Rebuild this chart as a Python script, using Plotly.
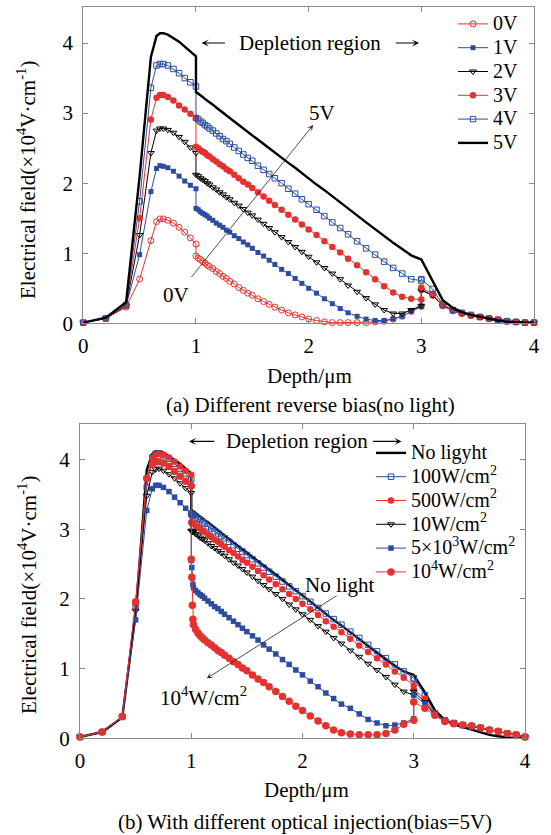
import plotly.graph_objects as go

W, H = 551, 835
FONT = "Liberation Serif"
RED = "#e5322f"
BLUE = "#2c4c9e"
BLACK = "#000000"
GRAY = "#8a8a8a"

# ---------------- (a) Different reverse bias (no light) ----------------
depth_a = [0.0, 0.2, 0.38, 0.5, 0.6, 0.65, 0.68, 0.71, 0.75, 0.8, 0.85, 0.9, 0.95, 1.0,
           1.0, 1.02, 1.04, 1.06, 1.08, 1.1, 1.12, 1.15, 1.18, 1.21, 1.24, 1.27, 1.3, 1.34, 1.38, 1.42,
           1.46, 1.5, 1.55, 1.6, 1.65, 1.7, 1.76, 1.82, 1.88, 1.94, 2.0, 2.07, 2.14, 2.21, 2.28, 2.35,
           2.43, 2.51, 2.59, 2.67, 2.75, 2.83, 2.91, 3.0,
           3.0, 3.1, 3.19, 3.28, 3.36, 3.44, 3.52, 3.6, 3.68, 3.76, 3.84, 3.92, 4.0]

bias_0v = [0.01, 0.07, 0.23, 0.63, 1.18, 1.45, 1.49, 1.49, 1.47, 1.43, 1.37, 1.30, 1.22, 1.13,
           0.96, 0.93, 0.91, 0.88, 0.86, 0.83, 0.81, 0.78, 0.74, 0.71, 0.67, 0.64, 0.60, 0.56, 0.51, 0.47,
           0.43, 0.40, 0.35, 0.31, 0.27, 0.23, 0.19, 0.15, 0.12, 0.09, 0.06, 0.04, 0.02, 0.01, 0.01, 0.01,
           0.01, 0.01, 0.02, 0.03, 0.06, 0.10, 0.17, 0.24,
           0.48, 0.40, 0.25, 0.18, 0.14, 0.11, 0.09, 0.07, 0.05, 0.03, 0.02, 0.01, 0.01]
bias_1v = [0.01, 0.07, 0.25, 0.98, 1.88, 2.21, 2.25, 2.24, 2.22, 2.17, 2.10, 2.03, 1.97, 1.92,
           1.64, 1.62, 1.59, 1.57, 1.55, 1.53, 1.50, 1.47, 1.43, 1.40, 1.37, 1.33, 1.30, 1.25, 1.21, 1.16,
           1.12, 1.07, 1.01, 0.96, 0.90, 0.84, 0.77, 0.71, 0.64, 0.57, 0.50, 0.43, 0.35, 0.28, 0.21, 0.15,
           0.10, 0.06, 0.04, 0.04, 0.06, 0.10, 0.17, 0.24,
           0.48, 0.40, 0.25, 0.18, 0.14, 0.11, 0.09, 0.07, 0.05, 0.03, 0.02, 0.01, 0.01]
bias_2v = [0.01, 0.07, 0.25, 1.26, 2.43, 2.75, 2.78, 2.78, 2.76, 2.72, 2.66, 2.59, 2.51, 2.43,
           2.12, 2.10, 2.07, 2.05, 2.03, 2.00, 1.98, 1.94, 1.91, 1.87, 1.84, 1.80, 1.77, 1.72, 1.68, 1.63,
           1.58, 1.54, 1.48, 1.42, 1.36, 1.30, 1.23, 1.16, 1.09, 1.02, 0.95, 0.87, 0.79, 0.71, 0.63, 0.54,
           0.45, 0.36, 0.27, 0.19, 0.14, 0.14, 0.19, 0.25,
           0.47, 0.40, 0.25, 0.18, 0.14, 0.11, 0.09, 0.07, 0.05, 0.03, 0.02, 0.01, 0.01]
bias_3v = [0.01, 0.07, 0.25, 1.50, 2.91, 3.22, 3.26, 3.26, 3.23, 3.18, 3.11, 3.05, 2.99, 2.93,
           2.52, 2.50, 2.47, 2.45, 2.43, 2.40, 2.38, 2.34, 2.31, 2.27, 2.24, 2.20, 2.17, 2.12, 2.07, 2.02,
           1.98, 1.93, 1.87, 1.81, 1.75, 1.69, 1.62, 1.55, 1.48, 1.41, 1.34, 1.26, 1.17, 1.09, 1.01, 0.92,
           0.83, 0.73, 0.63, 0.53, 0.44, 0.38, 0.35, 0.34,
           0.51, 0.42, 0.25, 0.18, 0.14, 0.11, 0.09, 0.07, 0.05, 0.03, 0.02, 0.01, 0.01]
bias_4v = [0.01, 0.07, 0.26, 1.74, 3.36, 3.68, 3.70, 3.70, 3.68, 3.63, 3.57, 3.50, 3.44, 3.38,
           2.93, 2.91, 2.88, 2.86, 2.83, 2.81, 2.78, 2.75, 2.71, 2.67, 2.63, 2.60, 2.56, 2.51, 2.46, 2.41,
           2.36, 2.32, 2.25, 2.19, 2.13, 2.07, 2.00, 1.92, 1.85, 1.77, 1.70, 1.62, 1.53, 1.44, 1.36, 1.27,
           1.17, 1.07, 0.98, 0.88, 0.79, 0.71, 0.63, 0.61,
           0.63, 0.49, 0.27, 0.19, 0.15, 0.12, 0.09, 0.07, 0.05, 0.03, 0.02, 0.01, 0.01]
bias_5v = [0.01, 0.08, 0.30, 2.10, 3.80, 4.10, 4.14, 4.14, 4.12, 4.07, 4.02, 3.95, 3.88, 3.81,
           3.30, 3.28, 3.25, 3.23, 3.20, 3.18, 3.15, 3.12, 3.08, 3.04, 3.00, 2.97, 2.93, 2.88, 2.83, 2.78,
           2.73, 2.69, 2.62, 2.56, 2.50, 2.44, 2.36, 2.29, 2.22, 2.14, 2.07, 1.98, 1.90, 1.81, 1.72, 1.64,
           1.54, 1.44, 1.34, 1.25, 1.15, 1.06, 0.97, 0.91,
           0.91, 0.60, 0.33, 0.22, 0.16, 0.12, 0.09, 0.06, 0.04, 0.02, 0.01, 0.01, 0.01]

# ---------------- (b) Different optical injection (bias = 5 V) ----------------
depth_b = [0.0, 0.2, 0.38, 0.5, 0.6, 0.65, 0.68, 0.71, 0.75, 0.8, 0.85, 0.9, 0.95, 1.0,
           1.0, 1.005, 1.01, 1.015, 1.02, 1.04, 1.06, 1.08, 1.1, 1.12, 1.15, 1.18, 1.21, 1.24, 1.27, 1.3,
           1.34, 1.38, 1.42, 1.46, 1.5, 1.55, 1.6, 1.65, 1.7, 1.76, 1.82, 1.88, 1.94, 2.0, 2.07, 2.14,
           2.21, 2.28, 2.35, 2.43, 2.51, 2.59, 2.67, 2.75, 2.83, 2.91, 3.0,
           3.0, 3.1, 3.19, 3.28, 3.36, 3.44, 3.52, 3.6, 3.68, 3.76, 3.84, 3.92, 4.0]

light_none = [0.02, 0.09, 0.30, 1.80, 3.85, 4.08, 4.12, 4.12, 4.10, 4.05, 4.00, 3.94, 3.87, 3.80,
              3.28, 3.27, 3.27, 3.26, 3.26, 3.23, 3.21, 3.18, 3.16, 3.13, 3.10, 3.06, 3.02, 2.98, 2.95, 2.91,
              2.86, 2.81, 2.76, 2.71, 2.67, 2.60, 2.54, 2.48, 2.42, 2.35, 2.27, 2.20, 2.12, 2.05, 1.96, 1.88,
              1.79, 1.70, 1.62, 1.52, 1.42, 1.32, 1.23, 1.13, 1.04, 0.96, 0.91,
              0.91, 0.66, 0.40, 0.26, 0.20, 0.16, 0.12, 0.08, 0.05, 0.03, 0.01, 0.00, 0.00]
light_100 = [0.02, 0.09, 0.31, 1.88, 3.60, 4.03, 4.08, 4.09, 4.06, 4.01, 3.94, 3.87, 3.80, 3.72,
             3.22, 3.21, 3.21, 3.20, 3.20, 3.17, 3.15, 3.13, 3.10, 3.08, 3.04, 3.01, 2.97, 2.94, 2.90, 2.87,
             2.82, 2.77, 2.72, 2.68, 2.63, 2.57, 2.51, 2.45, 2.39, 2.32, 2.25, 2.18, 2.11, 2.04, 1.96, 1.87,
             1.79, 1.71, 1.63, 1.53, 1.44, 1.34, 1.25, 1.15, 1.06, 0.96, 0.86,
             0.86, 0.62, 0.36, 0.26, 0.22, 0.19, 0.17, 0.15, 0.12, 0.10, 0.07, 0.05, 0.02]
light_500 = [0.02, 0.09, 0.31, 1.93, 3.73, 4.02, 4.07, 4.08, 4.07, 4.03, 3.97, 3.90, 3.84, 3.78,
             3.10, 3.09, 3.09, 3.08, 3.08, 3.05, 3.03, 3.01, 2.98, 2.96, 2.92, 2.89, 2.85, 2.82, 2.78, 2.75,
             2.70, 2.66, 2.61, 2.56, 2.52, 2.46, 2.40, 2.34, 2.28, 2.21, 2.14, 2.07, 2.00, 1.93, 1.85, 1.77,
             1.68, 1.60, 1.52, 1.43, 1.33, 1.24, 1.15, 1.06, 0.96, 0.87, 0.76,
             0.70, 0.57, 0.34, 0.25, 0.22, 0.19, 0.17, 0.15, 0.12, 0.10, 0.07, 0.05, 0.02]
light_10 = [0.02, 0.09, 0.31, 1.83, 3.48, 3.82, 3.86, 3.87, 3.84, 3.79, 3.73, 3.66, 3.59, 3.52,
            2.98, 2.97, 2.97, 2.96, 2.96, 2.93, 2.91, 2.88, 2.86, 2.84, 2.80, 2.76, 2.73, 2.69, 2.66, 2.62,
            2.57, 2.52, 2.48, 2.43, 2.38, 2.32, 2.26, 2.20, 2.14, 2.07, 2.00, 1.92, 1.85, 1.78, 1.70, 1.61,
            1.53, 1.44, 1.36, 1.26, 1.17, 1.07, 0.98, 0.88, 0.77, 0.67, 0.62,
            0.67, 0.52, 0.33, 0.25, 0.22, 0.19, 0.17, 0.15, 0.12, 0.10, 0.07, 0.05, 0.02]
light_5e3 = [0.02, 0.09, 0.31, 1.70, 3.27, 3.58, 3.63, 3.63, 3.60, 3.54, 3.46, 3.38, 3.30, 3.23,
             2.55, 2.45, 2.30, 2.21, 2.16, 2.12, 2.09, 2.06, 2.04, 2.01, 1.97, 1.93, 1.89, 1.86, 1.82, 1.78,
             1.73, 1.68, 1.63, 1.58, 1.53, 1.47, 1.41, 1.34, 1.28, 1.21, 1.13, 1.06, 0.98, 0.91, 0.82, 0.74,
             0.65, 0.57, 0.49, 0.43, 0.35, 0.27, 0.22, 0.18, 0.19, 0.22, 0.28,
             0.62, 0.50, 0.33, 0.25, 0.22, 0.19, 0.17, 0.15, 0.12, 0.10, 0.07, 0.05, 0.02]
light_1e4 = [0.02, 0.09, 0.31, 1.96, 3.73, 3.93, 3.97, 3.97, 3.95, 3.90, 3.83, 3.76, 3.69, 3.62,
             2.57, 2.31, 1.91, 1.71, 1.63, 1.56, 1.51, 1.47, 1.44, 1.41, 1.37, 1.34, 1.30, 1.26, 1.23, 1.19,
             1.15, 1.10, 1.06, 1.01, 0.97, 0.91, 0.85, 0.80, 0.74, 0.67, 0.60, 0.53, 0.46, 0.40, 0.32, 0.25,
             0.18, 0.12, 0.08, 0.06, 0.05, 0.05, 0.05, 0.07, 0.12, 0.20, 0.26,
             0.52, 0.43, 0.33, 0.24, 0.21, 0.19, 0.18, 0.15, 0.12, 0.10, 0.07, 0.05, 0.02]

tick_vals = [0, 1, 2, 3, 4]
tick_text = ["0", "1", "2", "3", "4"]


def px(x):
    return x / W


def py(y):
    return 1 - y / H


def leg(t):
    return '<span style="font-size:20px">' + t + '</span>'


fig = go.Figure()

top_series = [
    ("0V", bias_0v, "lines+markers", RED, dict(symbol="circle-open", size=6, color=RED, line=dict(width=1, color=RED)), 1),
    ("1V", bias_1v, "lines+markers", BLUE, dict(symbol="square", size=5, color=BLUE, line=dict(width=0)), 1),
    ("2V", bias_2v, "lines+markers", BLACK, dict(symbol="triangle-down-open", size=6, color=BLACK, line=dict(width=1, color=BLACK)), 1),
    ("3V", bias_3v, "lines+markers", RED, dict(symbol="circle", size=6.5, color=RED, line=dict(width=0)), 1),
    ("4V", bias_4v, "lines+markers", BLUE, dict(symbol="square-open", size=5.5, color=BLUE, line=dict(width=1, color=BLUE)), 1),
    ("5V", bias_5v, "lines", BLACK, None, 2.4),
]
for name, ys, mode, col, mk, lw in top_series:
    kw = dict(x=depth_a, y=ys, mode=mode, name=leg(name), line=dict(color=col, width=lw),
              xaxis="x", yaxis="y", legend="legend", cliponaxis=False)
    if mk is not None:
        kw["marker"] = mk
    fig.add_trace(go.Scatter(**kw))

bottom_series = [
    ("No ligyht", light_none, "lines", BLACK, None, 2.4),
    ("100W/cm<sup>2</sup>", light_100, "lines+markers", BLUE, dict(symbol="square-open", size=5.5, color=BLUE, line=dict(width=1, color=BLUE)), 1),
    ("500W/cm<sup>2</sup>", light_500, "lines+markers", RED, dict(symbol="circle", size=6.5, color=RED, line=dict(width=0)), 1),
    ("10W/cm<sup>2</sup>", light_10, "lines+markers", BLACK, dict(symbol="triangle-down-open", size=6, color=BLACK, line=dict(width=1, color=BLACK)), 1),
    ("5×10<sup>3</sup>W/cm<sup>2</sup>", light_5e3, "lines+markers", BLUE, dict(symbol="square", size=5.5, color=BLUE, line=dict(width=0)), 1),
    ("10<sup>4</sup>W/cm<sup>2</sup>", light_1e4, "lines+markers", RED, dict(symbol="circle", size=7.5, color=RED, line=dict(width=0)), 1),
]
for name, ys, mode, col, mk, lw in bottom_series:
    kw = dict(x=depth_b, y=ys, mode=mode, name=leg(name), line=dict(color=col, width=lw),
              xaxis="x2", yaxis="y2", legend="legend2", cliponaxis=False)
    if mk is not None:
        kw["marker"] = mk
    fig.add_trace(go.Scatter(**kw))

axis_common = dict(showline=True, linecolor=GRAY, linewidth=1, mirror="ticks", ticks="inside",
                   ticklen=5, tickcolor=GRAY, tickwidth=1, showgrid=False, zeroline=False,
                   tickvals=tick_vals, ticktext=tick_text, automargin=False,
                   tickfont=dict(family=FONT, size=21, color="black"))

fig.update_layout(
    width=W, height=H,
    margin=dict(l=0, r=0, t=0, b=0, pad=0, autoexpand=False),
    paper_bgcolor="white", plot_bgcolor="white",
    font=dict(family=FONT, size=21, color="black"),
    xaxis=dict(domain=[px(83.3), px(534)], range=[0, 4], anchor="y", ticklabelstandoff=3, **axis_common),
    yaxis=dict(domain=[py(323.3), py(7.3)], range=[0, 4.51], anchor="x", ticklabelstandoff=5, **axis_common),
    xaxis2=dict(domain=[px(80), px(525)], range=[0, 4], anchor="y2", ticklabelstandoff=3, **axis_common),
    yaxis2=dict(domain=[py(738.3), py(424)], range=[0, 4.51], anchor="x2", ticklabelstandoff=5, **axis_common),
    legend=dict(x=px(453), y=py(7), xanchor="left", yanchor="top", bgcolor="rgba(0,0,0,0)",
                font=dict(family=FONT, size=16, color="black"), tracegroupgap=0, itemwidth=30),
    legend2=dict(x=px(371), y=py(436), xanchor="left", yanchor="top", bgcolor="rgba(0,0,0,0)",
                 font=dict(family=FONT, size=16, color="black"), tracegroupgap=0, itemwidth=30),
    showlegend=True,
)

ann = []
f21 = dict(family=FONT, size=21, color="black")
C = dict(xanchor="center", yanchor="middle", showarrow=False, font=f21)

# top panel annotations
ann.append(dict(xref="x", yref="y", x=2.01, y=4.0, text="Depletion region", **C))
ann.append(dict(xref="x", yref="y", x=1.05, y=4.0, axref="x", ayref="y", ax=1.27, ay=4.0, text="",
                showarrow=True, arrowhead=3, arrowsize=1.1, arrowwidth=1.1, arrowcolor="black"))
ann.append(dict(xref="x", yref="y", x=2.98, y=4.0, axref="x", ayref="y", ax=2.76, ay=4.0, text="",
                showarrow=True, arrowhead=3, arrowsize=1.1, arrowwidth=1.1, arrowcolor="black"))
ann.append(dict(xref="x", yref="y", x=2.04, y=2.83, axref="x", ayref="y", ax=0.95, ay=0.64, text="",
                showarrow=True, arrowhead=3, arrowsize=1.3, arrowwidth=0.8, arrowcolor="#222"))
ann.append(dict(xref="x", yref="y", x=2.12, y=3.0, text="5V", **C))
ann.append(dict(xref="x", yref="y", x=0.82, y=0.40, text="0V", **C))

# bottom panel annotations
ann.append(dict(xref="x2", yref="y2", x=1.95, y=4.26, text="Depletion region", **C))
ann.append(dict(xref="x2", yref="y2", x=0.98, y=4.26, axref="x2", ayref="y2", ax=1.22, ay=4.26, text="",
                showarrow=True, arrowhead=3, arrowsize=1.1, arrowwidth=1.1, arrowcolor="black"))
ann.append(dict(xref="x2", yref="y2", x=2.89, y=4.26, axref="x2", ayref="y2", ax=2.62, ay=4.26, text="",
                showarrow=True, arrowhead=3, arrowsize=1.1, arrowwidth=1.1, arrowcolor="black"))
ann.append(dict(xref="x2", yref="y2", x=1.14, y=0.86, axref="x2", ayref="y2", ax=2.32, ay=2.06, text="",
                showarrow=True, arrowhead=3, arrowsize=1.3, arrowwidth=0.8, arrowcolor="#222"))
ann.append(dict(xref="x2", yref="y2", x=2.34, y=2.2, text="No light", **C))
ann.append(dict(xref="x2", yref="y2", x=1.11, y=0.6, text="10<sup>4</sup>W/cm<sup>2</sup>", **C))

# axis titles and captions
ytitle = "Electrical field(×10<sup>4</sup>V·cm<sup>-1</sup>)"
ann.append(dict(xref="paper", yref="paper", x=px(309), y=py(376), text="Depth/μm", **C))
ann.append(dict(xref="paper", yref="paper", x=px(26), y=py(180), text=ytitle, textangle=-90, **C))
ann.append(dict(xref="paper", yref="paper", x=px(311), y=py(405), text="(a) Different reverse bias(no light)", **C))
ann.append(dict(xref="paper", yref="paper", x=px(306), y=py(790), text="Depth/μm", **C))
ann.append(dict(xref="paper", yref="paper", x=px(27), y=py(595), text=ytitle, textangle=-90, **C))
ann.append(dict(xref="paper", yref="paper", x=px(305), y=py(822),
                text="(b) With different optical injection(bias=5V)", **C))

fig.update_layout(annotations=ann)

fig.write_html("out.html",
               config={"displayModeBar": False},
               post_script="document.body.style.margin='0px';document.body.style.overflow='hidden';")
